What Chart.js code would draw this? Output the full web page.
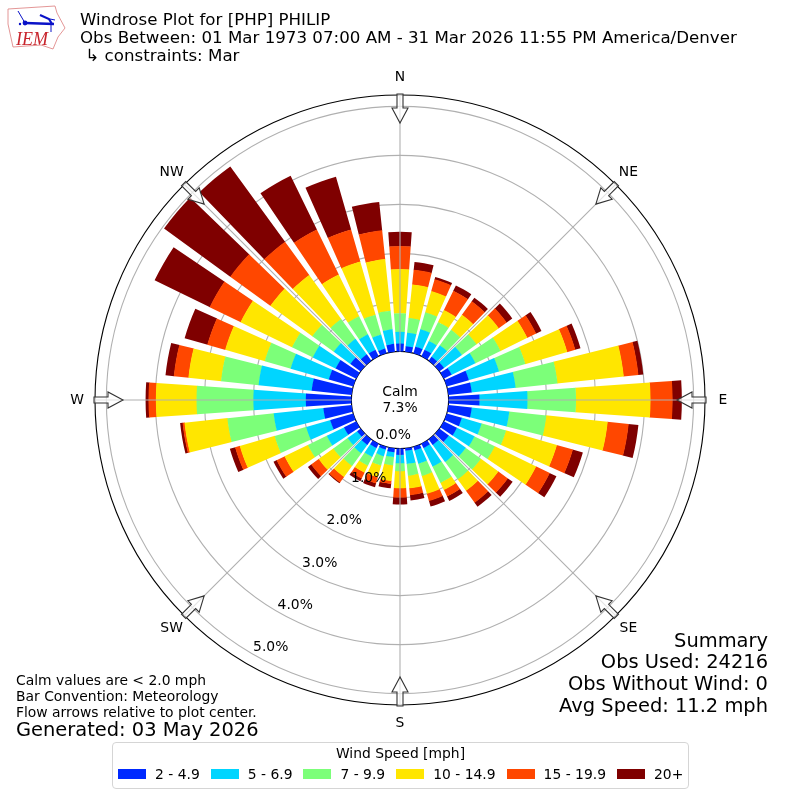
<!DOCTYPE html>
<html>
<head>
<meta charset="utf-8">
<script src="https://cdn.jsdelivr.net/npm/chart.js@4/dist/chart.umd.js"></script>
<style>
html,body{margin:0;padding:0;background:#fff;width:800px;height:800px;overflow:hidden;font-family:"DejaVu Sans",sans-serif;color:#000}
#c{position:absolute;left:0;top:0}
.t{position:absolute;white-space:pre}
#title{left:80px;top:11px;font-size:16.67px;line-height:18px}
#notes{left:16px;top:672px;font-size:13.89px;line-height:16px}
#gen{left:16px;top:718px;font-size:19.44px;line-height:24px}
#summary{right:32px;top:629.5px;font-size:19.44px;line-height:21.8px;text-align:right}
#legend{position:absolute;left:112px;top:742px;width:575px;height:45px;border:1px solid #d5d5d5;border-radius:4px;background:#fff}
#legendTitle{position:absolute;left:0;right:0;top:2px;text-align:center;font-size:13.89px;line-height:17px}
#legendItems{position:absolute;left:5px;top:21px;height:20px;display:flex;align-items:center;font-size:13.89px}
.sw{display:inline-block;width:28px;height:10px;margin-right:9px}
.it{display:flex;align-items:center;margin-right:11px;white-space:pre}
</style>
</head>
<body>
<canvas id="c" width="800" height="800"></canvas>
<svg style="position:absolute;left:0;top:0" width="70" height="54" viewBox="0 0 70 54">
  <path d="M8 9 L55 6 L57 13 L65 28 L58 37 L53 49 L41 45 L13 47 L8 24 Z" fill="#fff" stroke="#e08a8a" stroke-width="0.9"/>
  <path d="M18 11 L25 23" stroke="#0a12c8" stroke-width="1" fill="none"/>
  <path d="M25 23 L54 24" stroke="#0a12c8" stroke-width="2.4" fill="none"/>
  <path d="M40 15 L49 19 L52 24" stroke="#0a12c8" stroke-width="2.2" fill="none"/>
  <path d="M50 19 L55 20 M51 24 L51 32" stroke="#0a12c8" stroke-width="1" fill="none"/>
  <circle cx="25" cy="23" r="2.4" fill="#0a12c8"/>
  <circle cx="20" cy="24" r="1.2" fill="#0a12c8"/>
  <text x="16" y="45" font-family="Liberation Serif" font-style="italic" font-size="18" fill="#c8242c">IEM</text>
</svg>
<div class="t" id="title"></div>
<div class="t" id="notes"></div>
<div class="t" id="gen"></div>
<div class="t" id="summary"></div>
<div id="legend"><div id="legendTitle"></div><div id="legendItems"></div></div>
<script>
// Upper edge of each speed class in each direction (percent of observations),
// read from the radial axis. Directions run clockwise from N in 10 degree steps.
const directions = [0,10,20,30,40,50,60,70,80,90,100,110,120,130,140,150,160,170,180,190,200,210,220,230,240,250,260,270,280,290,300,310,320,330,340,350];
const upTo4_9 = [.16,.11,.14,.15,.10,.12,.18,.47,.48,.63,.48,.32,.30,.24,.14,.10,.08,.05,.13,.08,.06,.10,.14,.09,.28,.49,.58,.93,.82,.52,.47,.26,.16,.15,.10,.16];
const upTo6_9 = [.40,.39,.51,.35,.39,.57,.72,1.11,1.38,1.61,1.25,.74,.70,.67,.57,.52,.36,.32,.30,.18,.20,.30,.35,.33,.67,1.00,1.60,2.00,1.91,1.33,.99,.68,.55,.50,.40,.46];
const upTo9_9 = [.78,.69,.87,.78,.78,.94,1.29,1.67,2.24,2.60,2.01,1.26,1.16,1.05,1.01,.89,.62,.56,.46,.35,.40,.50,.67,.69,1.10,1.67,2.55,3.16,2.68,1.88,1.46,1.22,1.05,.91,.82,.84];
const upTo14_9 = [1.68,1.38,1.32,1.05,1.16,1.50,1.90,2.56,3.60,4.12,3.27,2.34,2.10,1.49,1.30,1.05,1.00,.82,.81,.67,.65,.66,.95,1.06,1.63,2.41,3.43,3.99,3.35,2.72,2.63,2.28,2.16,1.86,1.95,1.90];
const upTo19_9 = [2.15,1.68,1.57,1.49,1.50,1.70,2.10,2.73,3.90,4.57,3.70,2.68,2.41,1.73,1.60,1.20,1.15,.96,1.00,.73,.78,.79,1.09,1.25,1.81,2.51,3.47,4.14,3.65,3.10,3.33,3.29,3.00,2.88,2.63,2.49];
const upToMax = [2.44,1.84,1.62,1.61,1.59,1.84,2.22,2.84,4.00,4.76,3.90,2.89,2.56,1.85,1.70,1.30,1.27,1.07,1.14,.82,.86,.85,1.11,1.33,1.88,2.62,3.52,4.20,3.82,3.58,4.58,4.96,4.90,4.10,3.75,3.07];

const speedLabels = ["2 - 4.9","5 - 6.9","7 - 9.9","10 - 14.9","15 - 19.9","20+"];
const speedColors = ["#0029ff","#00d5ff","#7cff79","#ffe600","#ff4700","#7f0000"];
const ringValues = [0,1,2,3,4,5];
const compassLabels = ["N","NE","E","SE","S","SW","W","NW"];
const calmText = ["Calm","7.3%"];
const titleLines = ["Windrose Plot for [PHP] PHILIP","Obs Between: 01 Mar 1973 07:00 AM - 31 Mar 2026 11:55 PM America/Denver"," \u21b3 constraints: Mar"];
const noteLines = ["Calm values are < 2.0 mph","Bar Convention: Meteorology","Flow arrows relative to plot center."];
const generatedText = "Generated: 03 May 2026";
const summaryLines = ["Summary","Obs Used: 24216","Obs Without Wind: 0","Avg Speed: 11.2 mph"];
const legendTitle = "Wind Speed [mph]";

const axisMin = -0.992, axisMax = 5.232;
const barDeg = 8, gapDeg = 2;
const series = [upTo4_9,upTo6_9,upTo9_9,upTo14_9,upTo19_9,upToMax];

document.getElementById('title').textContent = titleLines.join("\n");
document.getElementById('notes').textContent = noteLines.join("\n");
document.getElementById('gen').textContent = generatedText;
document.getElementById('summary').textContent = summaryLines.join("\n");
document.getElementById('legendTitle').textContent = legendTitle;
const li = document.getElementById('legendItems');
speedLabels.forEach((l,i)=>{
  const d=document.createElement('div');d.className='it';
  const s=document.createElement('span');s.className='sw';s.style.background=speedColors[i];
  d.appendChild(s);d.appendChild(document.createTextNode(l));li.appendChild(d);
});

const FONT = '13.89px "DejaVu Sans"';
const rosePlugin = {
  id:'rose',
  // turn the overlaid wedges into stacked ring segments
  afterDatasetsUpdate(chart){
    const s = chart.scales.r;
    const r0 = s.getDistanceFromCenterForValue(0);
    chart.data.datasets.forEach((_,i)=>{
      const arcs = chart.getDatasetMeta(i).data;
      arcs.forEach((arc,j)=>{
        if (j%2) return;
        arc.innerRadius = i===0 ? r0 : Math.max(chart.getDatasetMeta(i-1).data[j].outerRadius-0.4,0);
      });
    });
  },
  afterDatasetsDraw(chart){
    const s = chart.scales.r, ctx = chart.ctx;
    const r0 = s.getDistanceFromCenterForValue(0), r1 = s.getDistanceFromCenterForValue(axisMax);
    ctx.save();
    ctx.strokeStyle='#b0b0b0';ctx.lineWidth=1.1;
    compassLabels.forEach((_,i)=>{
      const a=i*Math.PI/4-Math.PI/2;
      ctx.beginPath();
      ctx.moveTo(s.xCenter+r0*Math.cos(a),s.yCenter+r0*Math.sin(a));
      ctx.lineTo(s.xCenter+r1*Math.cos(a),s.yCenter+r1*Math.sin(a));
      ctx.stroke();
    });
    ctx.restore();
  },
  afterDraw(chart){
    const s = chart.scales.r, ctx = chart.ctx;
    ctx.save();
    // flow arrows
    compassLabels.forEach((_,i)=>{
      ctx.save();
      ctx.translate(s.xCenter,s.yCenter);
      ctx.rotate(i*Math.PI/4);
      ctx.beginPath();
      ctx.moveTo(0,-277);ctx.lineTo(8,-292);ctx.lineTo(3,-292);ctx.lineTo(3,-306);
      ctx.lineTo(-3,-306);ctx.lineTo(-3,-292);ctx.lineTo(-8,-292);ctx.closePath();
      ctx.fillStyle='rgba(255,255,255,0.65)';ctx.fill();
      ctx.strokeStyle='#333';ctx.lineWidth=1.1;ctx.stroke();
      ctx.restore();
    });
    ctx.fillStyle='#000';ctx.font=FONT;ctx.textAlign='center';ctx.textBaseline='middle';
    // compass labels
    compassLabels.forEach((t,i)=>{
      const a=i*Math.PI/4-Math.PI/2;
      ctx.fillText(t,s.xCenter+323*Math.cos(a),s.yCenter+323*Math.sin(a)+0.3);
    });
    // radial tick labels along the 210 degree bearing
    const b=(210-90)*Math.PI/180;
    ringValues.forEach(v=>{
      const r=s.getDistanceFromCenterForValue(v);
      ctx.fillText(v.toFixed(1)+'%',s.xCenter+r*Math.cos(b)+17.5,s.yCenter+r*Math.sin(b)-6.5);
    });
    ctx.fillText(calmText[0],s.xCenter,s.yCenter-7.5);
    ctx.fillText(calmText[1],s.xCenter,s.yCenter+8.5);
    ctx.restore();
  }
};

new Chart(document.getElementById('c'),{
  type:'polarArea',
  data:{
    labels:directions.flatMap(d=>[String(d),'']),
    datasets:series.map((vals,i)=>({
      label:speedLabels[i],
      data:vals.flatMap(v=>[v,axisMin]),
      backgroundColor:speedColors[i],
      borderWidth:0,
      angle:c=>c.dataIndex%2?gapDeg:barDeg
    }))
  },
  options:{
    responsive:false,
    animation:false,
    devicePixelRatio:1,
    layout:{padding:95},
    plugins:{legend:{display:false},tooltip:{enabled:false},title:{display:false}},
    scales:{r:{
      type:'radialLinear',
      z:1,
      min:axisMin,max:axisMax,
      startAngle:-barDeg/2,
      angleLines:{display:false},
      pointLabels:{display:false},
      ticks:{display:false},
      afterBuildTicks:sc=>{sc.ticks=[...ringValues,axisMax].map(value=>({value}));},
      grid:{circular:true,lineWidth:1.1,color:c=>(c.tick&&(c.tick.value===0||c.tick.value===axisMax))?'#000':'#b0b0b0'}
    }}
  },
  plugins:[rosePlugin]
});
</script>
</body>
</html>
